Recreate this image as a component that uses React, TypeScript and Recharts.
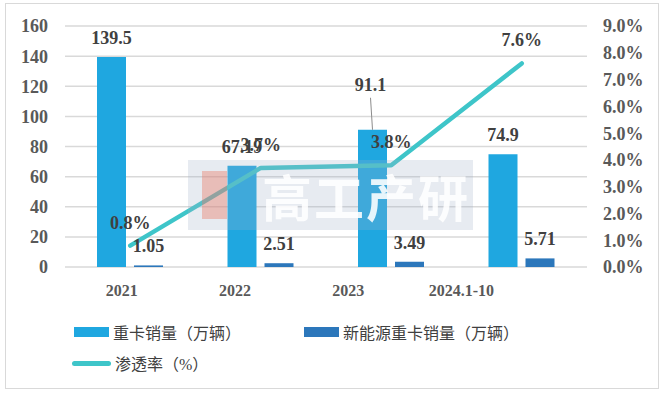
import React from 'react';
import {
  ComposedChart, Bar, Line, XAxis, YAxis, CartesianGrid, Legend, LabelList,
} from 'recharts';

const categories = ['2021', '2022', '2023', '2024.1-10'];
const heavyTruckSales = [139.5, 67.19, 91.1, 74.9];
const nevHeavyTruckSales = [1.05, 2.51, 3.49, 5.71];
const penetrationRate = [0.8, 3.7, 3.8, 7.6];
const leftTicks = [0, 20, 40, 60, 80, 100, 120, 140, 160];
const rightTicks = [0, 1, 2, 3, 4, 5, 6, 7, 8, 9];

const seriesNames = {
  heavy: '重卡销量（万辆）',
  nev: '新能源重卡销量（万辆）',
  rate: '渗透率（%）',
};

const data = categories.map((c, i) => ({
  category: c,
  heavy: heavyTruckSales[i],
  nev: nevHeavyTruckSales[i],
  rate: penetrationRate[i],
}));

const FONT = "'Liberation Serif', 'Times New Roman', 'Noto Sans CJK SC', serif";
const C_HEAVY = '#1fa7e0';
const C_NEV = '#2c77bb';
const C_RATE = '#3ec5c9';
const LABEL_COLOR = '#404040';
const TICK_COLOR = '#595959';

const labelStyle = { fontFamily: FONT, fontSize: 18, fontWeight: 700, fill: LABEL_COLOR };

const HeavyLabel = (props: any) => {
  const { x, y, width, value, index } = props;
  const cx = Number(x) + Number(width) / 2;
  if (index === 2) {
    return (
      <g>
        <line x1={cx - 2} y1={Number(y) - 32} x2={cx} y2={Number(y)} stroke="#8c8c8c" strokeWidth={1} />
        <text x={cx - 2} y={Number(y) - 39} textAnchor="middle" style={labelStyle}>{value}</text>
      </g>
    );
  }
  return <text x={cx} y={Number(y) - 13} textAnchor="middle" style={labelStyle}>{value}</text>;
};

const NevLabel = (props: any) => {
  const { x, y, width, value } = props;
  const cx = Number(x) + Number(width) / 2;
  return <text x={cx} y={Number(y) - 13} textAnchor="middle" style={labelStyle}>{Number(value).toFixed(2)}</text>;
};

const RateLabel = (props: any) => {
  const { x, y, value } = props;
  return <text x={Number(x)} y={Number(y) - 17} textAnchor="middle" style={labelStyle}>{Number(value).toFixed(1) + '%'}</text>;
};

const LegendContent = (props: any) => {
  const payload: any[] = props.payload || [];
  const find = (name: string) => payload.find((p) => p.value === name);
  const itemText: React.CSSProperties = { fontFamily: FONT, fontSize: 16, color: LABEL_COLOR, whiteSpace: 'nowrap', marginLeft: 4 };
  const renderItem = (name: string, type: 'bar' | 'line', left: number, top: number) => {
    const p = find(name);
    const color = p ? p.color : '#000';
    return (
      <div key={name} style={{ position: 'absolute', left, top, display: 'flex', alignItems: 'center', height: 20 }}>
        {type === 'bar' ? (
          <div style={{ width: 35, height: 10, background: color }} />
        ) : (
          <div style={{ width: 39, height: 5, borderRadius: 3, background: color }} />
        )}
        <span style={itemText}>{name}</span>
      </div>
    );
  };
  return (
    <div style={{ position: 'relative', width: 664, height: 70 }}>
      {renderItem(seriesNames.heavy, 'bar', 74, 0)}
      {renderItem(seriesNames.nev, 'bar', 304, 0)}
      {renderItem(seriesNames.rate, 'line', 72, 31)}
    </div>
  );
};

export default function App() {
  return (
    <div style={{ position: 'absolute', left: 0, top: 0, width: 664, height: 397, background: '#ffffff' }}>
      <div style={{ position: 'absolute', left: 5, top: 3, width: 654, height: 386, border: '1px solid #d9d9d9', boxSizing: 'border-box' }} />
      <ComposedChart
        width={664}
        height={397}
        data={data}
        margin={{ top: 26, right: 0, left: 0, bottom: 30 }}
        barGap={8}
        barSize={29}
        style={{ position: 'absolute', left: 0, top: 0 }}
      >
        <CartesianGrid yAxisId="left" xAxisId="main" vertical={false} stroke="#d9d9d9" strokeWidth={1.5} />
        <XAxis xAxisId="main" dataKey="category" hide />
        <XAxis
          xAxisId="lbl"
          dataKey="category"
          axisLine={false}
          tickLine={false}
          padding={{ left: 0, right: 69 }}
          height={30}
          tickMargin={12}
          interval={0}
          tick={{ fontFamily: FONT, fontSize: 16, fontWeight: 700, fill: TICK_COLOR }}
        />
        <YAxis
          yAxisId="left"
          orientation="left"
          width={65}
          domain={[0, 160]}
          ticks={leftTicks}
          interval={0}
          axisLine={false}
          tickLine={false}
          tickMargin={11}
          tick={{ fontFamily: FONT, fontSize: 18, fontWeight: 700, fill: TICK_COLOR }}
        />
        <YAxis
          yAxisId="right"
          orientation="right"
          width={77}
          domain={[0, 9]}
          ticks={rightTicks}
          interval={0}
          axisLine={false}
          tickLine={false}
          tickMargin={10}
          tickFormatter={(v: number) => v.toFixed(1) + '%'}
          tick={{ fontFamily: FONT, fontSize: 18, fontWeight: 700, fill: TICK_COLOR, textAnchor: 'start' }}
        />
        <Bar xAxisId="main" yAxisId="left" dataKey="heavy" name={seriesNames.heavy} fill={C_HEAVY} isAnimationActive={false}>
          <LabelList dataKey="heavy" content={HeavyLabel} />
        </Bar>
        <Bar xAxisId="main" yAxisId="left" dataKey="nev" name={seriesNames.nev} fill={C_NEV} isAnimationActive={false}>
          <LabelList dataKey="nev" content={NevLabel} />
        </Bar>
        <Line
          xAxisId="main"
          yAxisId="right"
          type="linear"
          dataKey="rate"
          name={seriesNames.rate}
          stroke={C_RATE}
          strokeWidth={4.5}
          strokeLinecap="round"
          strokeLinejoin="round"
          dot={false}
          isAnimationActive={false}
        >
          <LabelList dataKey="rate" content={RateLabel} />
        </Line>
        <Legend
          content={LegendContent}
          wrapperStyle={{ position: 'absolute', left: 0, top: 322, width: 664, height: 70 }}
        />
      </ComposedChart>
      <div
        style={{
          position: 'absolute', left: 188, top: 160, width: 285, height: 70,
          background: 'rgba(160,175,198,0.25)', pointerEvents: 'none',
          display: 'flex', alignItems: 'center', overflow: 'hidden',
        }}
      >
        <div style={{ flex: 'none', width: 25, height: 48, marginLeft: 14, background: 'rgba(235,120,100,0.4)' }} />
        <span
          style={{
            flex: 'none', marginLeft: 35, fontFamily: "'Noto Sans CJK SC', sans-serif", fontSize: 50, fontWeight: 700,
            color: 'rgba(255,255,255,0.88)', letterSpacing: 2, lineHeight: '70px', whiteSpace: 'nowrap',
          }}
        >
          高工产研
        </span>
      </div>
    </div>
  );
}
